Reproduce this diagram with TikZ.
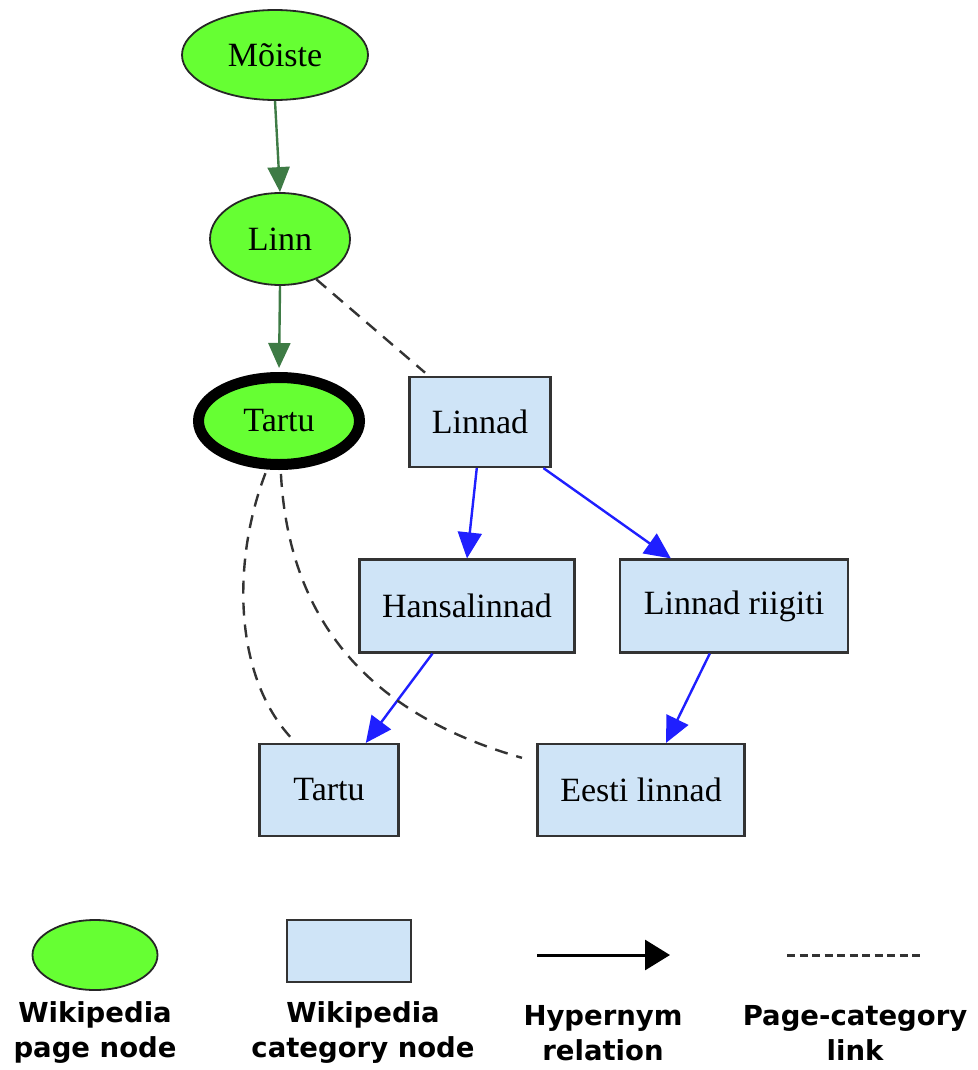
\documentclass[tikz,border=0pt]{standalone}
\usepackage{fontspec}
\setmainfont{Liberation Serif}
\newfontfamily\legfont{DejaVu Sans}
\usetikzlibrary{shapes.geometric,arrows.meta,calc}
\definecolor{pagegreen}{HTML}{66FF33}
\definecolor{catblue}{HTML}{CFE4F7}
\definecolor{hypblue}{HTML}{1F1FFF}
\definecolor{edgegreen}{HTML}{3E7B45}
\definecolor{dashgray}{HTML}{333333}
\begin{document}
\begin{tikzpicture}[x=1pt,y=-1pt,
  page/.style={ellipse, draw=black!85, line width=1.8pt, fill=pagegreen, inner sep=0pt,
    font=\fontsize{34}{40}\selectfont},
  cat/.style={rectangle, draw=black!80, line width=2.2pt, fill=catblue, inner sep=0pt,
    font=\fontsize{34}{40}\selectfont},
  hyp/.style={draw=hypblue, line width=2.4pt, -{Triangle[length=26pt,width=24pt]}},
  hypg/.style={draw=edgegreen, line width=2.4pt, -{Triangle[length=25pt,width=22pt]}},
  pcl/.style={draw=dashgray, line width=2.4pt, dash pattern=on 13pt off 9pt},
  leg/.style={font=\legfont\bfseries\fontsize{27.5}{35}\selectfont, align=center}
]
\path[use as bounding box] (0,0) rectangle (977,1070);

% page nodes
\node[page, minimum width=186pt, minimum height=90pt] (moiste) at (275,55) {Mõiste};
\node[page, minimum width=140pt, minimum height=92pt] (linn) at (280,239) {Linn};
\node[page, line width=11pt, draw=black, minimum width=161pt, minimum height=87pt] (tartue) at (279,421) {Tartu};

% category nodes
\node[cat, minimum width=141pt, minimum height=90pt] (linnad) at (480,422) {Linnad};
\node[cat, minimum width=215pt, minimum height=93pt] (hansa) at (467,606) {Hansalinnad};
\node[cat, minimum width=228pt, minimum height=93pt] (riigiti) at (734,606) {Linnad riigiti};
\node[cat, minimum width=139pt, minimum height=92pt] (tartub) at (329,790) {Tartu};
\node[cat, minimum width=207pt, minimum height=92pt] (eesti) at (641,790) {Eesti linnad};

% hypernym edges
\draw[hypg] (moiste.south) -- (linn.north);
\draw[hypg, shorten >=4pt] (linn.south) -- (tartue.north);
\draw[hyp] (linnad.-94) -- (hansa.north);
\draw[hyp] (linnad.-36) -- (riigiti.143);
\draw[hyp] (hansa.-126) -- (tartub.52);
\draw[hyp] (riigiti.-117) -- (eesti.62);

% page-category links
\draw[pcl, shorten >=5pt] (linn.-48) -- (linnad.138);
\draw[pcl, shorten <=4pt] (tartue.256) .. controls (232,560) and (232,680) .. (tartub.125);
\draw[pcl, shorten <=4pt, shorten >=15pt] (tartue.272) .. controls (290,640) and (390,720) .. (eesti.165);

% legend
\node[page, minimum width=125pt, minimum height=70pt] (lpage) at (95,955) {};
\node[cat, line width=1.8pt, minimum width=124pt, minimum height=62pt] (lcat) at (349,951) {};
\coordinate (la1) at (537,955);
\coordinate (la2) at (670,955);
\draw[line width=3pt, -{Triangle[length=25pt,width=30pt]}] (la1) -- (la2);
\coordinate (ld1) at (787,955);
\coordinate (ld2) at (922,955);
\draw[line width=3pt, dashgray, dash pattern=on 8pt off 4.5pt] (ld1) -- (ld2);

\node[leg] (t1) at (95,1033) {Wikipedia\\page node};
\node[leg] (t2) at (363,1033) {Wikipedia\\category node};
\node[leg] (t3) at (603,1033) {Hypernym\\relation};
\node[leg] (t4) at (855,1033) {Page-category\\link};
\end{tikzpicture}
\end{document}
